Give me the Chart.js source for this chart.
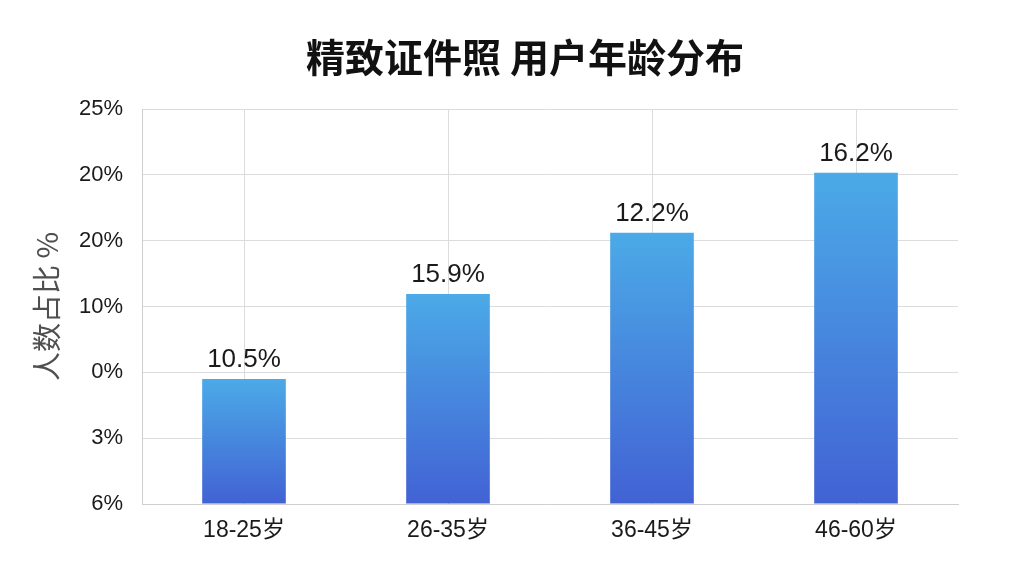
<!DOCTYPE html>
<html>
<head>
<meta charset="utf-8">
<script src="https://cdn.jsdelivr.net/npm/chart.js@4"></script>
<style>
  html, body { margin: 0; padding: 0; background: #fff; }
  #wrap { width: 1024px; height: 576px; }
</style>
</head>
<body>
<div id="wrap"><canvas id="ageChart"></canvas></div>
<script>
// categories and values (bar heights in axis steps, as drawn)
const ageGroups = ["18-25岁", "26-35岁", "36-45岁", "46-60岁"];
const barHeights = [1.9, 3.19, 4.12, 5.03];
const barLabels = ["10.5%", "15.9%", "12.2%", "16.2%"];
// y tick labels from bottom to top, as printed on the chart
const yTickLabels = ["6%", "3%", "0%", "10%", "20%", "20%", "25%"];
const chartTitle = "精致证件照 用户年龄分布";

const FONT = "'Liberation Sans', 'Noto Sans CJK SC', sans-serif";
const CJK_FONT = "'Noto Sans CJK SC', 'Liberation Sans', sans-serif";

// title drawn by hand so it sits where the original one does
const titlePlugin = {
  id: "titlePlugin",
  beforeDraw(chart) {
    const ctx = chart.ctx;
    ctx.save();
    ctx.font = "bold 39px " + CJK_FONT;
    ctx.fillStyle = "#111";
    ctx.textAlign = "center";
    ctx.textBaseline = "middle";
    ctx.fillText(chartTitle, 525, 57);
    ctx.restore();
  }
};

// draw the percentage above each bar
const barValueLabels = {
  id: "barValueLabels",
  afterDatasetsDraw(chart) {
    const ctx = chart.ctx;
    const meta = chart.getDatasetMeta(0);
    ctx.save();
    ctx.font = "26px " + FONT;
    ctx.fillStyle = "#1a1a1a";
    ctx.textAlign = "center";
    ctx.textBaseline = "alphabetic";
    meta.data.forEach((bar, i) => {
      ctx.fillText(barLabels[i], bar.x, bar.y - 12);
    });
    ctx.restore();
  }
};

function barGradient(context) {
  const chart = context.chart;
  if (!chart.chartArea) return "#4a8be0";
  const y = chart.scales.y;
  const top = y.getPixelForValue(context.raw);
  const bottom = y.getPixelForValue(0);
  const g = chart.ctx.createLinearGradient(0, top, 0, bottom);
  g.addColorStop(0, "#4baae7");
  g.addColorStop(1, "#4262d4");
  return g;
}

new Chart(document.getElementById("ageChart"), {
  type: "bar",
  data: {
    labels: ageGroups,
    datasets: [{
      data: barHeights,
      backgroundColor: barGradient,
      barPercentage: 0.82,
      categoryPercentage: 0.5
    }]
  },
  plugins: [titlePlugin, barValueLabels],
  options: {
    responsive: true,
    maintainAspectRatio: false,
    animation: false,
    layout: { padding: { left: 0, right: 66, top: 109, bottom: 0 } },
    plugins: {
      legend: { display: false },
      tooltip: { enabled: false },
      title: { display: false }
    },
    scales: {
      x: {
        grid: { color: "#dcdcdc", offset: false, drawTicks: false },
        border: { color: "#cfcfcf" },
        ticks: { color: "#1a1a1a", font: { family: FONT, size: 23 }, padding: 13 },
        afterFit(scale) { scale.height = 72; }
      },
      y: {
        min: 0,
        max: 6,
        ticks: {
          stepSize: 1,
          color: "#1a1a1a",
          font: { family: FONT, size: 22 },
          padding: 19,
          callback: (v) => yTickLabels[v]
        },
        grid: { color: "#dcdcdc", drawTicks: false },
        border: { color: "#cfcfcf" },
        title: {
          display: true,
          text: "人数占比 %",
          color: "#4f4f4f",
          font: { family: CJK_FONT, size: 29 },
          padding: { top: 30, bottom: 0 }
        },
        afterFit(scale) { scale.width = 142; }
      }
    }
  }
});
</script>
</body>
</html>
